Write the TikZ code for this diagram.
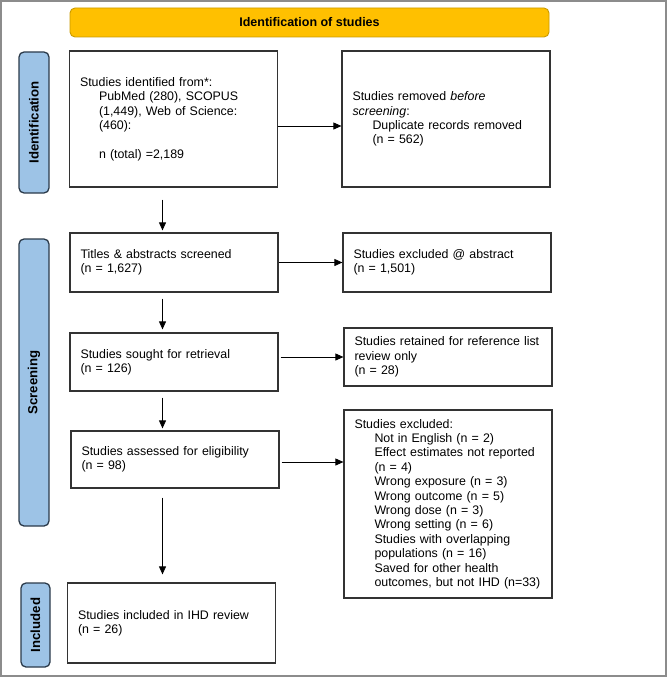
\documentclass[tikz,border=0pt]{standalone}
\usepackage{fontspec}
\setmainfont{Liberation Sans}
\usetikzlibrary{arrows.meta,calc}
\definecolor{boxc}{HTML}{333333}
\definecolor{framec}{HTML}{8C8C8C}
\definecolor{bannerfill}{HTML}{FFC000}
\definecolor{bannerdraw}{HTML}{C99A00}
\definecolor{sidefill}{HTML}{9DC3E6}
\definecolor{sidedraw}{HTML}{2B3A4A}
\begin{document}
\begin{tikzpicture}[x=1pt,y=-1pt,
  txt/.style={font=\fontsize{12.4}{14.4}\selectfont},
  box/.style={txt, draw=boxc, line width=1.2pt, fill=white, inner xsep=10.5pt, inner ysep=2pt, text width=187pt, align=left},
  banner/.style={draw=bannerdraw, line width=0.9pt, fill=bannerfill, rounded corners=5pt, font=\fontsize{12.5}{14}\selectfont\bfseries},
  side/.style={draw=sidedraw, line width=1.3pt, fill=sidefill, rounded corners=5pt, rotate=90, inner sep=0pt, font=\fontsize{13.2}{15}\selectfont\bfseries},
  arr/.style={draw=black, line width=0.8pt, -{Triangle[length=8pt,width=7pt]}}
]
\useasboundingbox (0,0) rectangle (671,677);
\draw[framec, line width=2pt] (1,1) rectangle (665.5,675.5);

% banner
\node[banner, minimum width=479pt, minimum height=29pt] (ban) at (309.5,22.5) {Identification of studies};

% side labels
\node[side, minimum width=141pt, minimum height=30pt] (idl) at (34,122.5) {Identification};
\node[side, minimum width=287pt, minimum height=30pt] (scl) at (34,382.5) {Screening};
\node[side, minimum width=84pt, minimum height=29pt] (inl) at (35.5,625) {Included};

% left column
\node[box, minimum height=136pt] (b1) at (173.5,119) {Studies identified from*:\\
\hspace*{19pt}PubMed (280), SCOPUS\\
\hspace*{19pt}(1,449), Web of Science:\\
\hspace*{19pt}(460):\\[14.4pt]
\hspace*{19pt}n (total) =2,189};

\node[box, minimum height=59pt] (ti) at (174,262.5) {Titles \& abstracts screened\\(n = 1,627)};
\node[box, minimum height=58pt] (so) at (174,362) {Studies sought for retrieval\\(n = 126)};
\node[box, minimum height=57pt] (as) at (175,459.5) {Studies assessed for eligibility\\(n = 98)};
\node[box, minimum height=80pt] (in) at (171.5,623) {Studies included in IHD review\\(n = 26)};

% right column
\node[box, minimum height=136pt] (b2) at (446,119) {Studies removed \textit{before}\\
\textit{screening}:\\
\hspace*{20pt}Duplicate records removed\\
\hspace*{20pt}(n = 562)};
\node[box, minimum height=59pt] (ea) at (447,262.5) {Studies excluded @ abstract\\(n = 1,501)};
\node[box, minimum height=58pt] (re) at (448,357) {Studies retained for reference list\\review only\\(n = 28)};
\node[box, minimum height=188pt] (ex) at (448,504) {Studies excluded:\\
\hspace*{20pt}Not in English (n = 2)\\
\hspace*{20pt}Effect estimates not reported\\
\hspace*{20pt}(n = 4)\\
\hspace*{20pt}Wrong exposure (n = 3)\\
\hspace*{20pt}Wrong outcome (n = 5)\\
\hspace*{20pt}Wrong dose (n = 3)\\
\hspace*{20pt}Wrong setting (n = 6)\\
\hspace*{20pt}Studies with overlapping\\
\hspace*{20pt}populations (n = 16)\\
\hspace*{20pt}Saved for other health\\
\hspace*{20pt}outcomes, but not IHD (n=33)};

% horizontal arrows
\draw[arr] ([yshift=-7pt]b1.east) -- ([yshift=-7pt]b1.east -| b2.west);
\draw[arr] (ti.east) -- (ti.east -| ea.west);
\draw[arr] ([xshift=2pt]so.east |- re.west) -- (re.west);
\draw[arr] ([xshift=2pt,yshift=-2.5pt]as.east) -- ([yshift=-2.5pt]as.east -| ex.west);

% vertical arrows (common column x = 162)
\coordinate (ax) at (162.5,0);
\draw[arr] ($(b1.south -| ax)+(0,12)$) -- ($(ti.north -| ax)+(0,-2)$);
\draw[arr] ($(ti.south -| ax)+(0,6)$) -- ($(so.north -| ax)+(0,-3)$);
\draw[arr] ($(so.south -| ax)+(0,6)$) -- ($(as.north -| ax)+(0,-2)$);
\draw[arr] ($(as.south -| ax)+(0,9)$) -- ($(in.north -| ax)+(0,-8)$);
\end{tikzpicture}
\end{document}
